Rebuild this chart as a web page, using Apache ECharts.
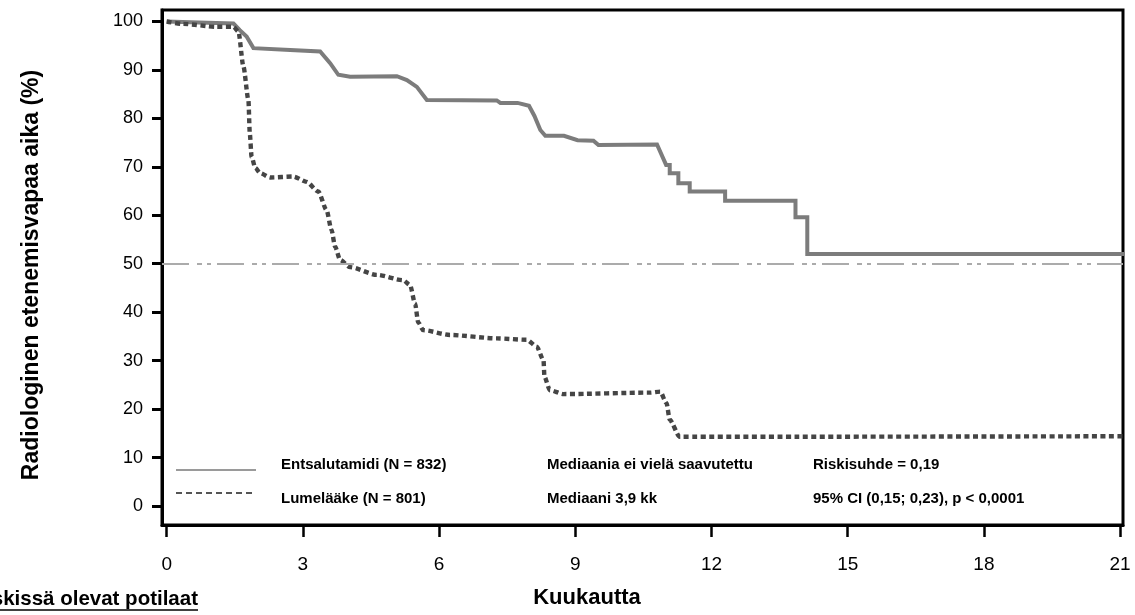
<!DOCTYPE html>
<html>
<head>
<meta charset="utf-8">
<script src="https://cdn.jsdelivr.net/npm/echarts@6/dist/echarts.min.js"></script>
<style>
  html, body { margin: 0; padding: 0; background: #fff; }
  #chart { width: 1135px; height: 615px; }
</style>
</head>
<body>
<div id="chart"></div>
<script>
// Kaplan–Meier curves: time in months, share without radiographic progression (%)
const enzaMonths = [0, 0.7, 1.47, 1.61, 1.76, 1.91, 2.72, 3.38, 3.6, 3.78, 4.04, 5.07, 5.29, 5.51, 5.73,
  7.27, 7.35, 7.73, 7.98, 8.1, 8.23, 8.34, 8.75, 9.05, 9.4, 9.51, 10.8, 11.0, 11.08, 11.08, 11.27, 11.27,
  11.52, 11.52, 12.3, 12.3, 13.85, 13.85, 14.11, 14.11, 21.1];
const enzaPct = [100, 99.8, 99.6, 98.2, 96.9, 94.5, 94.1, 93.8, 91.4, 89.0, 88.6, 88.7, 87.9, 86.5, 83.8,
  83.7, 83.2, 83.2, 82.6, 80.5, 77.6, 76.4, 76.4, 75.5, 75.4, 74.5, 74.6, 70.4, 70.4, 68.7, 68.7, 66.6,
  66.6, 64.9, 64.9, 63.0, 63.0, 59.6, 59.6, 52.0, 52.0];

const placeboMonths = [0, 0.36, 1.1, 1.47, 1.58, 1.69, 1.8, 1.83, 1.87, 1.95, 2.06, 2.28, 2.79, 3.08, 3.34,
  3.52, 3.63, 3.71, 3.82, 4.04, 4.63, 5.21, 5.36, 5.47, 5.54, 5.65, 6.24, 7.27, 7.93, 8.15, 8.3, 8.32, 8.44,
  8.74, 10.65, 10.87, 11.01, 11.08, 11.3, 13.88, 21.1];
const placeboPct = [100, 99.5, 98.9, 98.9, 97.9, 90.7, 83.8, 76.9, 72.1, 69.8, 68.7, 67.8, 68.0, 66.9, 64.9,
  61.1, 57.0, 53.5, 50.8, 49.3, 47.7, 46.6, 45.6, 41.8, 37.9, 36.3, 35.3, 34.6, 34.3, 32.9, 30.1, 26.7, 23.9,
  23.1, 23.4, 23.6, 21.2, 17.8, 14.3, 14.3, 14.4];

const medianLevel = 50;
const xTicks = [0, 3, 6, 9, 12, 15, 18, 21];
const yTicks = [0, 10, 20, 30, 40, 50, 60, 70, 80, 90, 100];

const legendRows = [
  ['Entsalutamidi (N = 832)', 'Mediaania ei vielä saavutettu', 'Riskisuhde = 0,19'],
  ['Lumelääke (N = 801)', 'Mediaani 3,9 kk', '95% CI (0,15; 0,23), p < 0,0001']
];

const FONT = "'Liberation Sans', Arial, Helvetica, sans-serif";

const pairs = (xs, ys) => xs.map((x, i) => [x, ys[i]]);

const chart = echarts.init(document.getElementById('chart'), null, { renderer: 'canvas' });

function txt(text, x, y, size, weight, align) {
  return {
    type: 'text', x: x, y: y, silent: true,
    style: {
      text: text, font: weight + ' ' + size + 'px ' + FONT, fill: '#000',
      align: align || 'left', verticalAlign: 'middle',
      textAlign: align || 'left', textVerticalAlign: 'middle'
    }
  };
}

const legendCols = [281, 547, 813];
const legendY = [465, 499];
const legendText = [];
legendRows.forEach((row, r) => row.forEach((t, c) => legendText.push(txt(t, legendCols[c], legendY[r], 15, 'bold'))));

chart.setOption({
  animation: false,
  backgroundColor: '#fff',
  grid: {
    left: 162, right: 12, top: 10, bottom: 90,
    show: true, borderColor: '#000', borderWidth: 3, backgroundColor: 'transparent'
  },
  xAxis: {
    type: 'value', min: -0.1035, max: 21.064,
    splitLine: { show: false },
    axisLine: { show: true, onZero: false, lineStyle: { color: '#000', width: 3 } },
    axisTick: { show: true, length: 12, customValues: xTicks, lineStyle: { color: '#000', width: 2.5 } },
    axisLabel: { customValues: xTicks, margin: 30, fontSize: 19, color: '#000', fontFamily: FONT }
  },
  yAxis: {
    type: 'value', min: -3.92, max: 102.37,
    splitLine: { show: false },
    axisLine: { show: true, onZero: false, lineStyle: { color: '#000', width: 3 } },
    axisTick: { show: true, length: 10, customValues: yTicks, lineStyle: { color: '#000', width: 3 } },
    axisLabel: { customValues: yTicks, margin: 19, fontSize: 18, color: '#000', fontFamily: FONT }
  },
  series: [
    {
      name: 'Entsalutamidi',
      type: 'line',
      data: pairs(enzaMonths, enzaPct),
      showSymbol: false,
      symbol: 'none',
      lineStyle: { color: '#7c7c7c', width: 4, cap: 'butt', join: 'miter' },
      z: 3,
      markLine: {
        silent: true, symbol: 'none', label: { show: false },
        lineStyle: { color: '#ababab', width: 2.2, type: [27, 8, 5, 5, 4, 6] },
        data: [{ yAxis: medianLevel }]
      }
    },
    {
      name: 'Lumelääke',
      type: 'line',
      data: pairs(placeboMonths, placeboPct),
      showSymbol: false,
      symbol: 'none',
      smooth: 0.25,
      smoothMonotone: 'x',
      lineStyle: { color: '#454545', width: 4.4, type: [5, 3.5], cap: 'butt' },
      z: 4
    }
  ],
  graphic: [
    // legend line samples
    { type: 'line', silent: true, shape: { x1: 176, y1: 470, x2: 256, y2: 470 },
      style: { stroke: '#9a9a9a', lineWidth: 2 } },
    { type: 'line', silent: true, shape: { x1: 176, y1: 493, x2: 256, y2: 493 },
      style: { stroke: '#555', lineWidth: 2.2, lineDash: [6, 4] } },
    ...legendText,
    // axis titles
    {
      type: 'text', x: 32, y: 275, rotation: Math.PI / 2, silent: true,
      style: {
        text: 'Radiologinen etenemisvapaa aika (%)', font: 'bold 23px ' + FONT, fill: '#000',
        align: 'center', verticalAlign: 'middle', textAlign: 'center', textVerticalAlign: 'middle'
      }
    },
    txt('Kuukautta', 587, 598, 22, 'bold', 'center'),
    // at-risk table heading, running off the left edge
    txt('Riskissä olevat potilaat', 198, 599, 20.5, 'bold', 'right'),
    { type: 'line', silent: true, shape: { x1: 0, y1: 610, x2: 198, y2: 610 },
      style: { stroke: '#000', lineWidth: 1.5 } }
  ]
});
</script>
</body>
</html>
